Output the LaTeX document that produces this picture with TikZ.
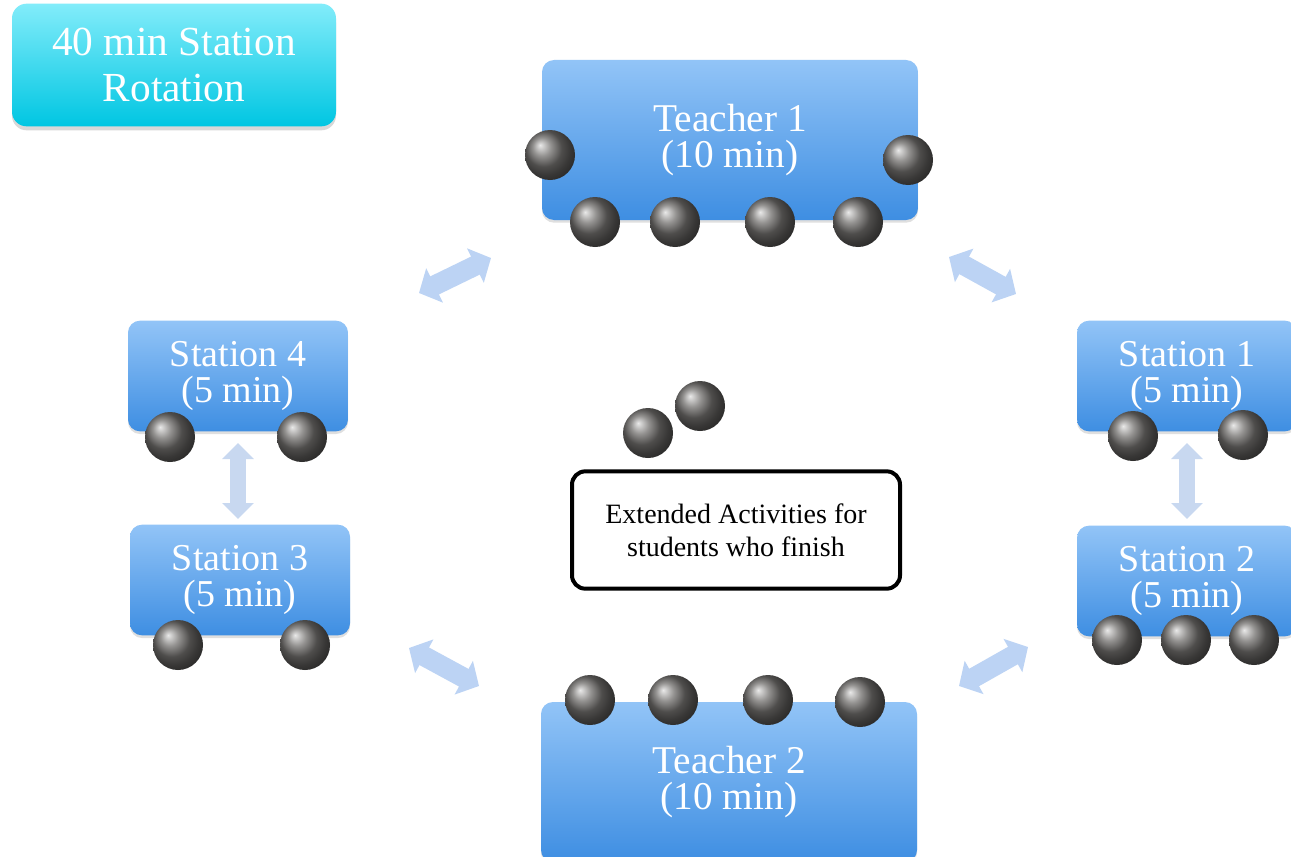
\documentclass[tikz,border=0pt]{standalone}
\usepackage{fontspec}
\setmainfont{Liberation Serif}
\usetikzlibrary{shadows,arrows.meta}
\definecolor{boxtop}{RGB}{146,196,247}
\definecolor{boxbot}{RGB}{62,142,226}
\definecolor{titletop}{RGB}{130,236,250}
\definecolor{titlebot}{RGB}{0,198,226}
\definecolor{arrowblue}{RGB}{188,211,244}
\definecolor{arrowpale}{RGB}{200,216,240}
\definecolor{ballgray}{RGB}{112,110,108}
\begin{document}
\begin{tikzpicture}[x=0.75pt,y=-0.75pt,
  bluebox/.style={rounded corners=9pt, top color=boxtop, bottom color=boxbot,
    text=white, align=center, inner sep=0pt,
    drop shadow={opacity=0.25,shadow xshift=0pt,shadow yshift=-2pt}},
  titlebox/.style={rounded corners=11pt, top color=titletop, bottom color=titlebot,
    text=white, align=center, inner sep=0pt, minimum width=243pt, minimum height=92pt,
    font=\fontsize{31}{34}\selectfont,
    drop shadow={opacity=0.3,shadow xshift=0pt,shadow yshift=-3pt}},
  teacherbox/.style={bluebox, minimum width=282pt, minimum height=120pt,
    font=\fontsize{29.5}{27}\selectfont},
  stationbox/.style={bluebox, minimum width=165pt, minimum height=83pt,
    font=\fontsize{28.5}{26.5}\selectfont},
  extbox/.style={draw=black, line width=3pt, rounded corners=10pt, fill=white,
    minimum width=246pt, minimum height=88pt, align=center, inner sep=0pt,
    font=\fontsize{21}{25}\selectfont},
  ball/.style={circle, shading=ball, ball color=ballgray, minimum size=37.5pt, inner sep=0pt},
  fatarrow/.style={draw=arrowblue, line width=15pt,
    {Triangle[width=28pt,length=13pt]}-{Triangle[width=28pt,length=13pt]}},
  thinarrow/.style={draw=arrowpale, line width=12pt,
    {Triangle[width=23pt,length=12pt]}-{Triangle[width=23pt,length=12pt]}}
]
\useasboundingbox (0,0) rectangle (1291,856);
\clip (0,0) rectangle (1291,856);
\fill[white] (0,0) rectangle (1291,856);

% boxes
\node[titlebox] (title) at (174,65) {40 min Station\\Rotation};
\node[teacherbox] (t1) at (730,140) {Teacher 1\\(10 min)};
\node[teacherbox] (t2) at (729,782) {Teacher 2\\(10 min)};
\node[stationbox] (s4) at (238,376) {Station 4\\(5 min)};
\node[stationbox] (s3) at (240,580) {Station 3\\(5 min)};
\node[stationbox] (s1) at (1187,376) {Station 1\\(5 min)};
\node[stationbox] (s2) at (1187,581) {Station 2\\(5 min)};
\node[extbox] (ext) at (736,530) {Extended Activities for\\students who finish};

% arrows
\coordinate (a1s) at (419,293); \coordinate (a1e) at (491,258);
\coordinate (a2s) at (949,257); \coordinate (a2e) at (1016,294);
\coordinate (a3s) at (238,443); \coordinate (a3e) at (238,519);
\coordinate (a4s) at (1187,443); \coordinate (a4e) at (1187,519);
\coordinate (a5s) at (409,648); \coordinate (a5e) at (479,686);
\coordinate (a6s) at (959,686); \coordinate (a6e) at (1028,647);
\draw[fatarrow] (a1s) -- (a1e);
\draw[fatarrow] (a2s) -- (a2e);
\draw[thinarrow] (a3s) -- (a3e);
\draw[thinarrow] (a4s) -- (a4e);
\draw[fatarrow] (a5s) -- (a5e);
\draw[fatarrow] (a6s) -- (a6e);

% students
\node[ball] (t1a) at (550,155) {};
\node[ball] (t1b) at (908,160) {};
\node[ball] (t1c) at (595,222) {};
\node[ball] (t1d) at (675,222) {};
\node[ball] (t1e) at (770,222) {};
\node[ball] (t1f) at (858,222) {};
\node[ball] (s4a) at (170,437) {};
\node[ball] (s4b) at (302,437) {};
\node[ball] (s3a) at (178,645) {};
\node[ball] (s3b) at (305,645) {};
\node[ball] (s1a) at (1133,436) {};
\node[ball] (s1b) at (1243,435) {};
\node[ball] (s2a) at (1117,640) {};
\node[ball] (s2b) at (1186,640) {};
\node[ball] (s2c) at (1254,640) {};
\node[ball] (t2a) at (590,700) {};
\node[ball] (t2b) at (673,700) {};
\node[ball] (t2c) at (768,700) {};
\node[ball] (t2d) at (860,702) {};
\node[ball] (ea) at (700,406) {};
\node[ball] (eb) at (648,433) {};
\end{tikzpicture}
\end{document}
